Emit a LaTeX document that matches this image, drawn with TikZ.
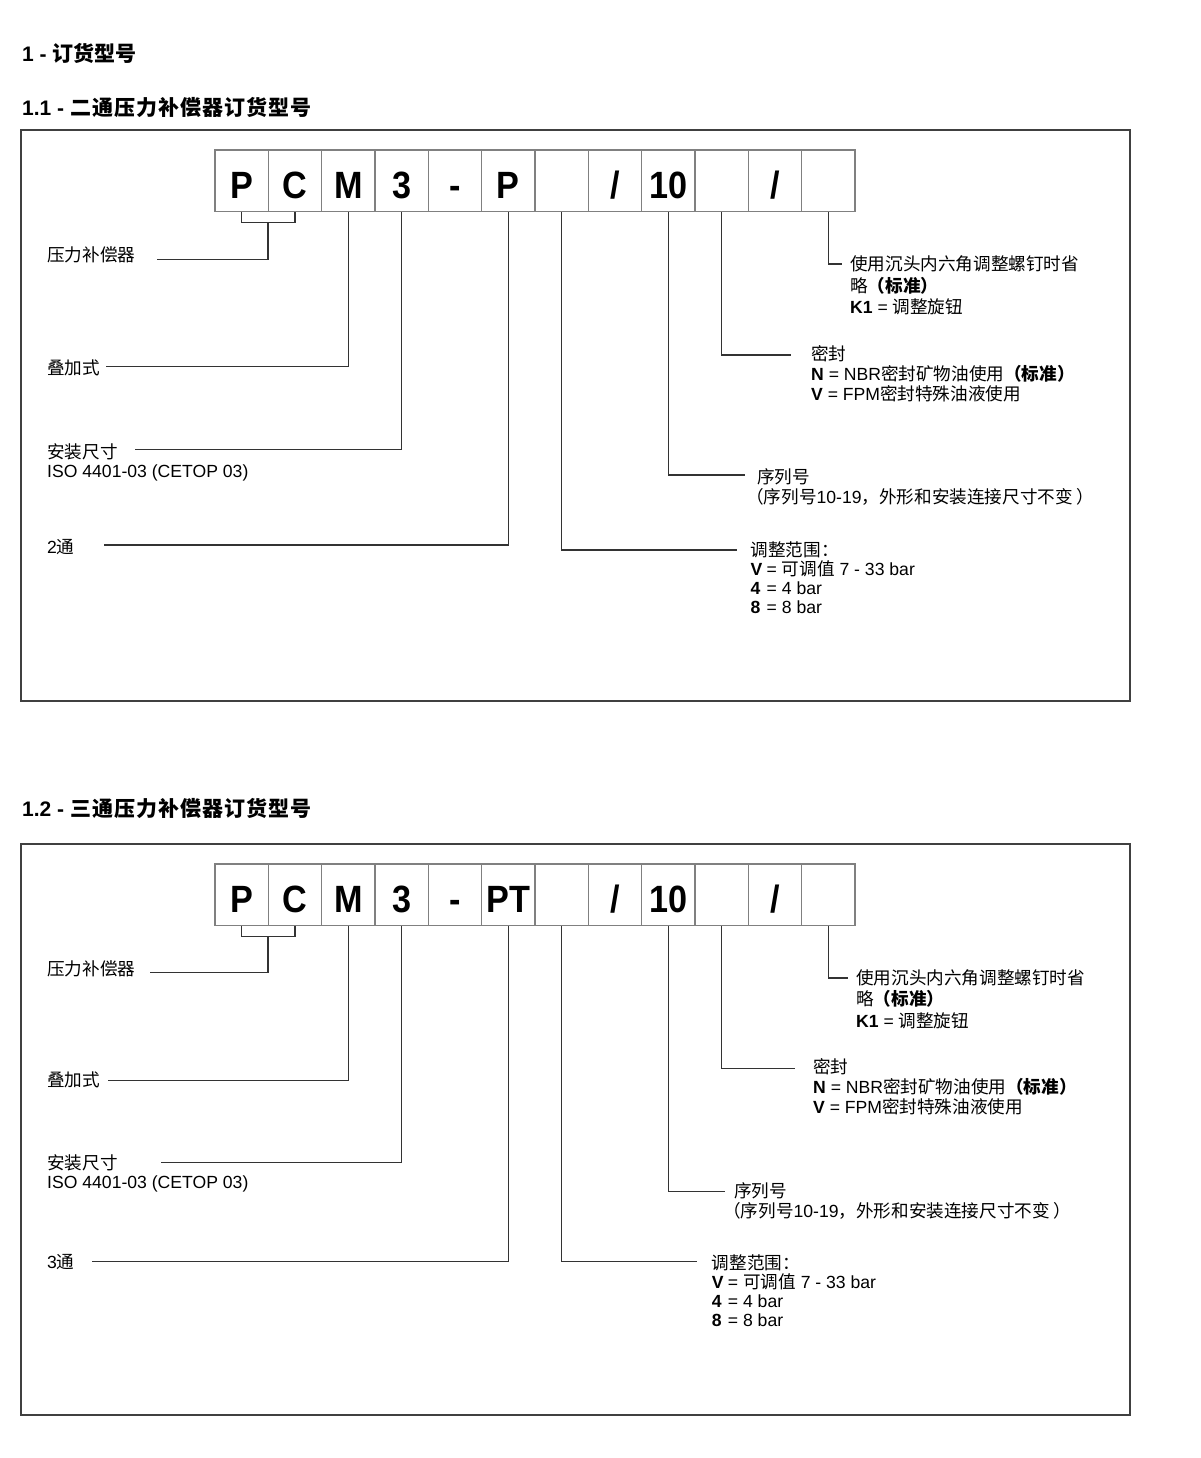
\documentclass[tikz,border=0pt]{standalone}
\usepackage{fontspec}
\setmainfont{Liberation Sans}
\newfontfamily\cjk{Noto Sans CJK SC}
\newfontfamily\codefont{Liberation Sans}[FakeStretch=0.9]
\usetikzlibrary{matrix}
\newcommand\zh[1]{{\cjk #1}}
\newcommand\optkey[1]{\makebox[16pt][l]{\textbf{#1}}}
\tikzset{
  cell/.style={draw=black!50, line width=1.5pt, minimum width=53.33pt, minimum height=61.7pt,
    inner sep=0pt, text height=34.9pt, text depth=0pt,
    font=\codefont\bfseries\fontsize{38}{38}\selectfont},
  lead/.style={draw=black!80, line width=1.3pt},
  frame/.style={draw=black!75, line width=1.5pt},
  % base = baseline of the last line
  lbl/.style={anchor=base west, inner sep=0pt, align=left, font=\fontsize{17.6}{20}\selectfont},
  widelbl/.style={lbl, font=\fontsize{17.6}{21.5}\selectfont},
  narrowlbl/.style={lbl, font=\fontsize{17.6}{19}\selectfont},
  hdr/.style={anchor=base west, inner sep=0pt, font=\bfseries\fontsize{21}{24}\selectfont},
}
\begin{document}
\begin{tikzpicture}[x=1pt,y=-1pt]
\path[fill=white] (0,0) rectangle (1200,1458);
\useasboundingbox (0,0) rectangle (1200,1458);

\node[hdr] (head0) at (22,61.5) {1 - \zh{订货型号}};

% 1.1 two-way
\node[hdr] (head1) at (22,116) {1.1 - \zh{\addfontfeature{LetterSpace=5}二通压力补偿器订货型号}};
\draw[frame] (21,130) rectangle (1130,701);

\matrix (code1) at (535,180.85) [matrix of nodes, nodes in empty cells, nodes={cell}, column sep=-1.5pt]
{
P & C & M & 3 & - & P & & / & 10 & & / & \\
};

\node[lbl] (comp1) at (47,261.5) {\zh{压力补偿器}};
\node[lbl] (mount1) at (47,374) {\zh{叠加式}};
\node[narrowlbl] (size1) at (47,477) {\zh{安装尺寸}\\ISO 4401-03 (CETOP 03)};
\node[lbl] (way1) at (47,553) {2\zh{通}};
\node[widelbl] (knob1) at (850,313.5) {\zh{使用沉头内六角调整螺钉时省}\\\zh{略\textbf{（标准）}}\\\textbf{K1} = \zh{调整旋钮}};
\node[lbl] (seal1) at (811,400) {\zh{密封}\\\textbf{N} = NBR\zh{密封矿物油使用\textbf{（标准）}}\\\textbf{V} = FPM\zh{密封特殊油液使用}};
\node[lbl] (ser1) at (757,503) {\zh{序列号}\\\kern-11pt\zh{（序列号}10-19\zh{，外形和安装连接尺寸不变 ）}};
\node[narrowlbl] (adj1) at (750.5,613.3) {\zh{调整范围：}\\\optkey{V}= \zh{可调值} 7 - 33 bar\\\optkey{4}= 4 bar\\\optkey{8}= 8 bar};

\coordinate (brk1) at (268,222.7);
\coordinate (e11) at (157,259.3);
\coordinate (e12) at (106,366.7);
\coordinate (e13) at (135,449.3);
\coordinate (e14) at (104.3,545);
\coordinate (e15) at (737,550);
\coordinate (e16) at (745,475);
\coordinate (e17) at (791,355);
\coordinate (e18) at (842,264);

\draw[lead] (code1-1-1.south) |- (brk1) -| (code1-1-2.south);
\draw[lead] (brk1) |- (e11);
\draw[lead] (code1-1-3.south) |- (e12);
\draw[lead] (code1-1-4.south) |- (e13);
\draw[lead] (code1-1-6.south) |- (e14);
\draw[lead] (code1-1-7.south) |- (e15);
\draw[lead] (code1-1-9.south) |- (e16);
\draw[lead] (code1-1-10.south) |- (e17);
\draw[lead] (code1-1-12.south) |- (e18);

% 1.2 three-way
\node[hdr] (head2) at (22,816) {1.2 - \zh{\addfontfeature{LetterSpace=5}三通压力补偿器订货型号}};
\draw[frame] (21,844) rectangle (1130,1415);

\matrix (code2) at (535,894.85) [matrix of nodes, nodes in empty cells, nodes={cell}, column sep=-1.5pt]
{
P & C & M & 3 & - & PT & & / & 10 & & / & \\
};

\node[lbl] (comp2) at (47,975) {\zh{压力补偿器}};
\node[lbl] (mount2) at (47,1086) {\zh{叠加式}};
\node[narrowlbl] (size2) at (47,1188.3) {\zh{安装尺寸}\\ISO 4401-03 (CETOP 03)};
\node[lbl] (way2) at (47,1268) {3\zh{通}};
\node[widelbl] (knob2) at (856,1027) {\zh{使用沉头内六角调整螺钉时省}\\\zh{略\textbf{（标准）}}\\\textbf{K1} = \zh{调整旋钮}};
\node[lbl] (seal2) at (813,1113.3) {\zh{密封}\\\textbf{N} = NBR\zh{密封矿物油使用\textbf{（标准）}}\\\textbf{V} = FPM\zh{密封特殊油液使用}};
\node[lbl] (ser2) at (734,1217.7) {\zh{序列号}\\\kern-11pt\zh{（序列号}10-19\zh{，外形和安装连接尺寸不变 ）}};
\node[narrowlbl] (adj2) at (711.7,1326) {\zh{调整范围：}\\\optkey{V}= \zh{可调值} 7 - 33 bar\\\optkey{4}= 4 bar\\\optkey{8}= 8 bar};

\coordinate (brk2) at (268,936.7);
\coordinate (e21) at (150,972.3);
\coordinate (e22) at (108.3,1080.7);
\coordinate (e23) at (160.7,1162.3);
\coordinate (e24) at (91.7,1261.7);
\coordinate (e25) at (696.7,1261.7);
\coordinate (e26) at (725,1191.7);
\coordinate (e27) at (795,1068.3);
\coordinate (e28) at (848,978);

\draw[lead] (code2-1-1.south) |- (brk2) -| (code2-1-2.south);
\draw[lead] (brk2) |- (e21);
\draw[lead] (code2-1-3.south) |- (e22);
\draw[lead] (code2-1-4.south) |- (e23);
\draw[lead] (code2-1-6.south) |- (e24);
\draw[lead] (code2-1-7.south) |- (e25);
\draw[lead] (code2-1-9.south) |- (e26);
\draw[lead] (code2-1-10.south) |- (e27);
\draw[lead] (code2-1-12.south) |- (e28);
\end{tikzpicture}
\end{document}
